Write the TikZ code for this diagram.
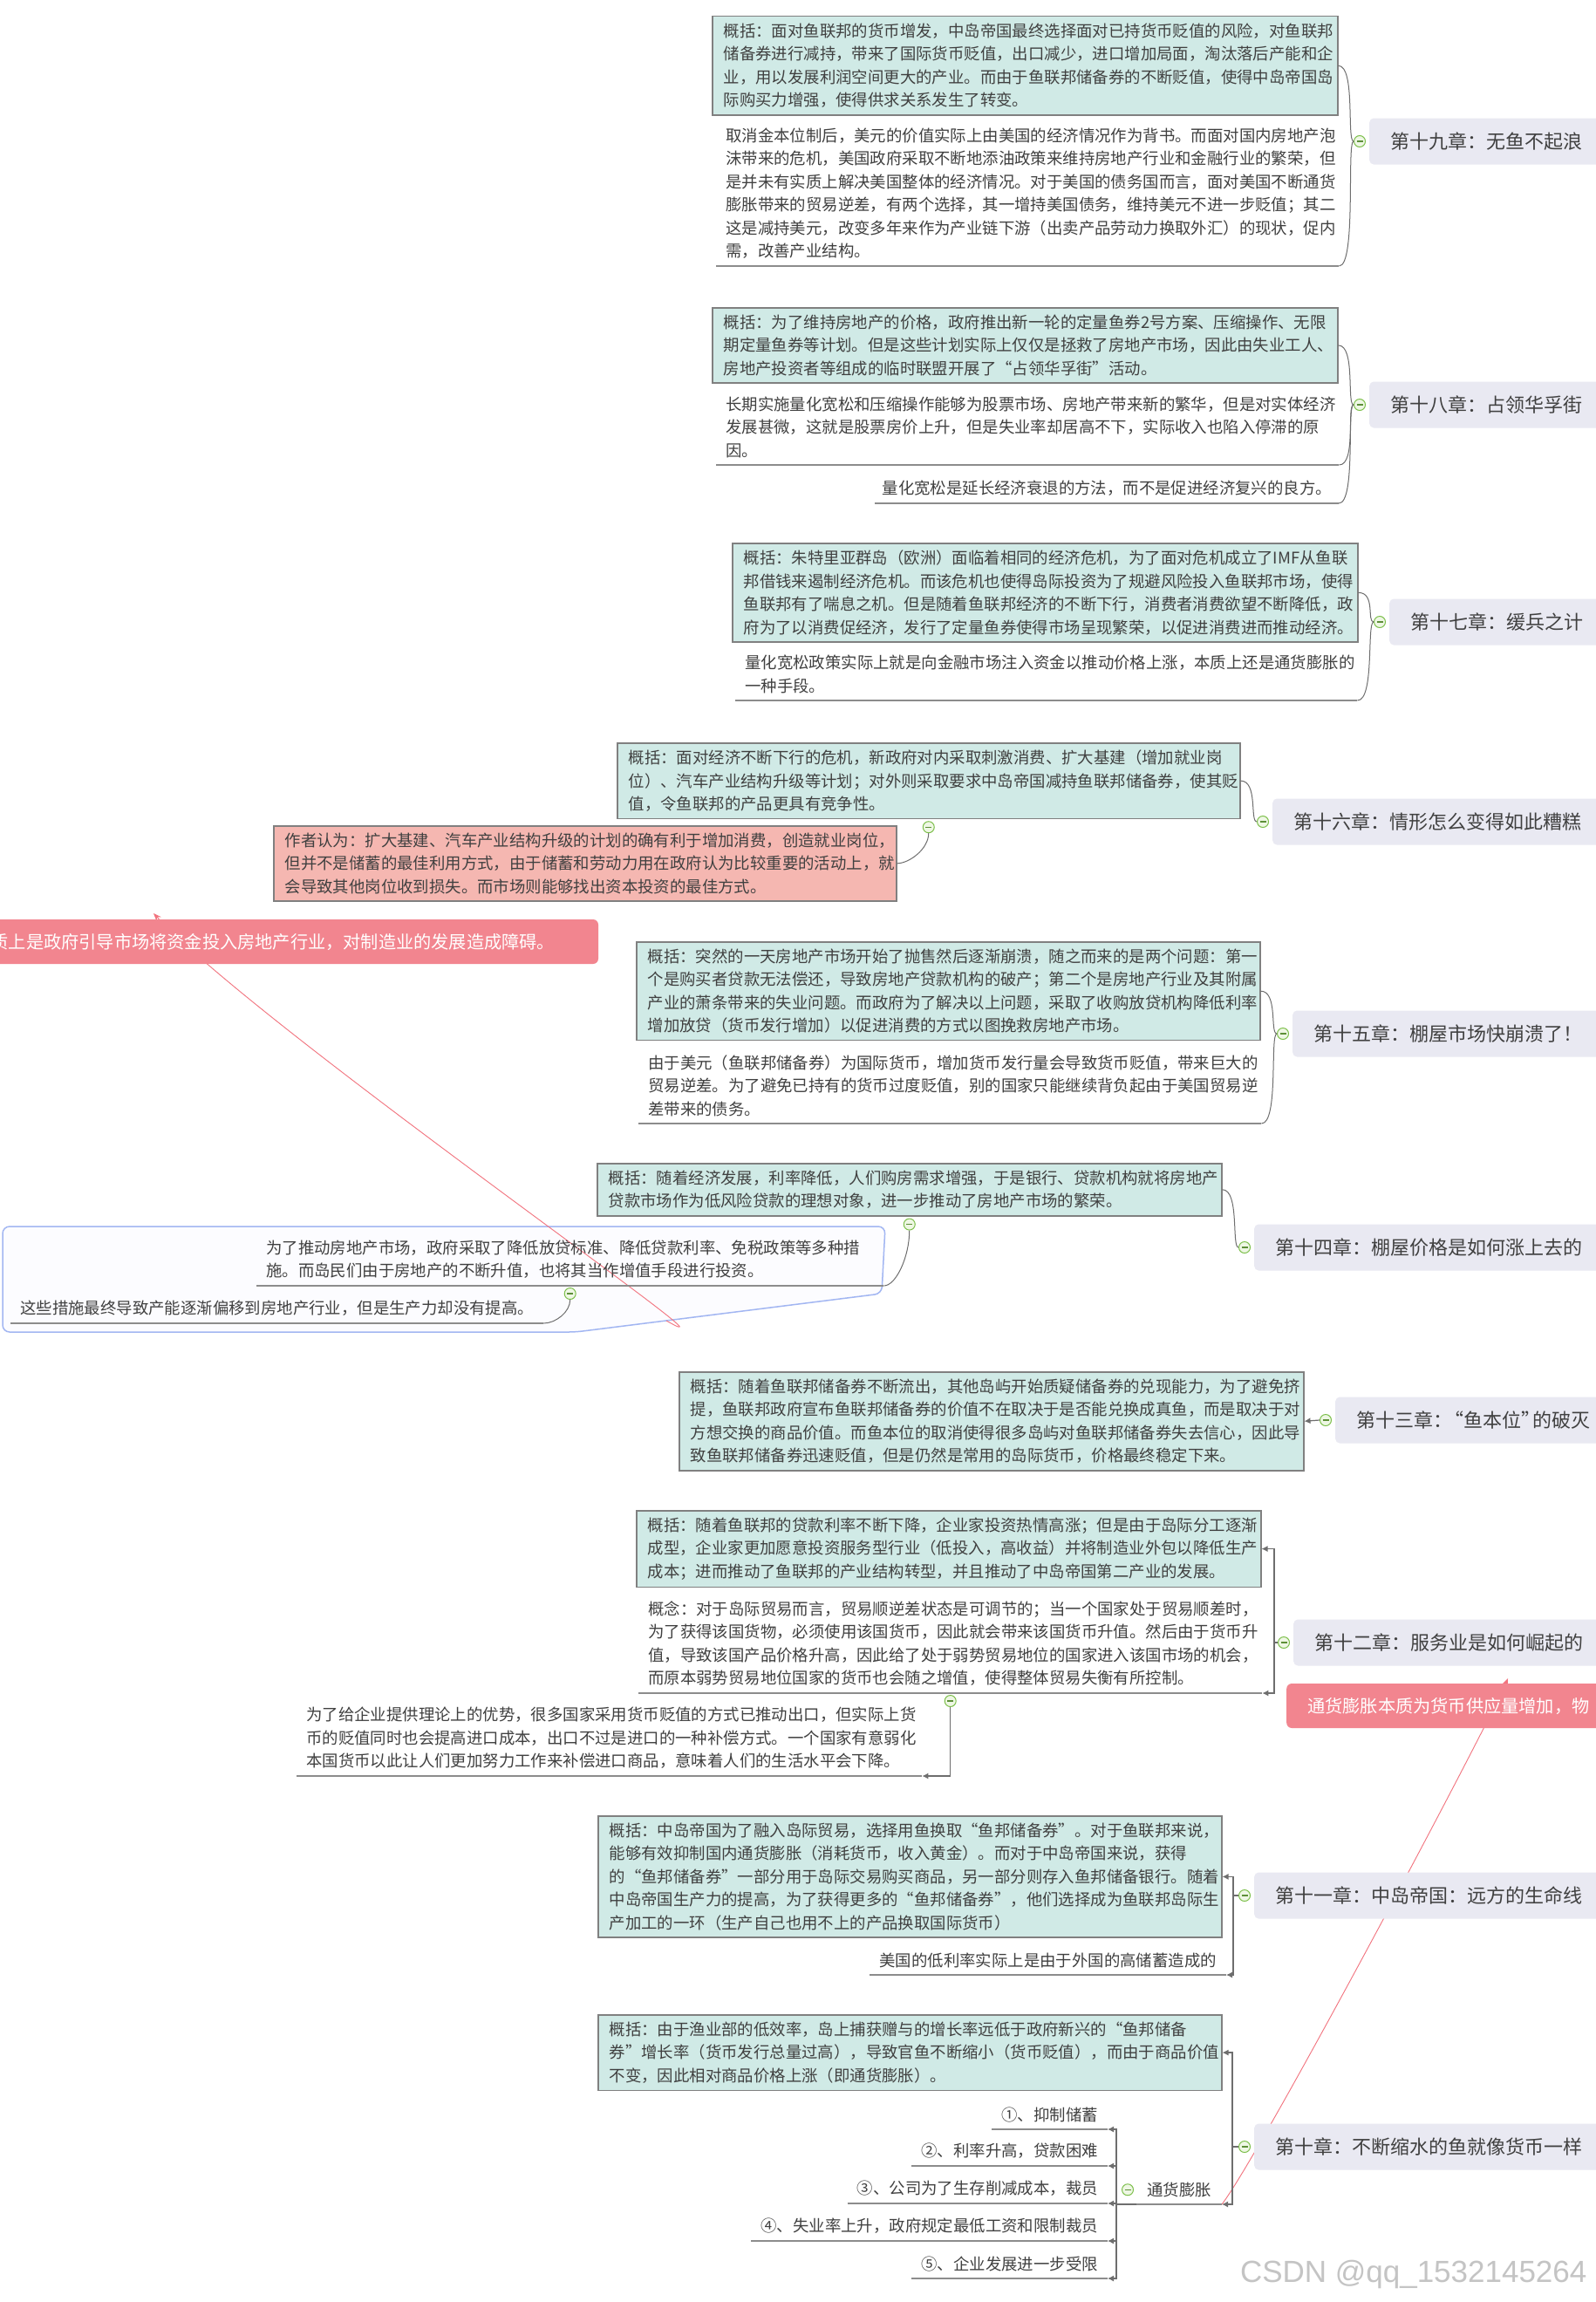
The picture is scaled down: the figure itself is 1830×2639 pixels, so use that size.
\documentclass[tikz,border=0pt]{standalone}
\usepackage{fontspec}
\setmainfont{Noto Sans CJK SC}
\newfontfamily\wmfont{Liberation Sans}
\usetikzlibrary{arrows.meta, positioning}
\definecolor{chapfill}{HTML}{E9E9F2}
\definecolor{sumfill}{HTML}{D0EAE6}
\definecolor{sumline}{HTML}{808080}
\definecolor{authfill}{HTML}{F5B7B1}
\definecolor{banfill}{HTML}{F2858F}
\definecolor{txtgray}{HTML}{404040}
\definecolor{ulgray}{HTML}{8C8C8C}
\definecolor{lnkgray}{HTML}{6E6E6E}
\definecolor{bdfill}{HTML}{FCFCFF}
\definecolor{bdblue}{HTML}{A2B6F2}
\definecolor{relred}{HTML}{F2737E}
\definecolor{foldgreen}{HTML}{7CBF4A}
\definecolor{foldfill}{HTML}{EEF7E4}
\definecolor{wmgray}{HTML}{C4C4C4}
\pgfdeclarelayer{bg}
\pgfdeclarelayer{mid}
\pgfsetlayers{bg,mid,main}

\begin{document}
\begin{tikzpicture}[
  x=1pt, y=-1pt,
  >={Latex[length=7pt, width=7pt]},
  chapter/.style={anchor=west, fill=chapfill, rounded corners=5pt,
    minimum height=53pt, inner xsep=24pt, inner ysep=0pt,
    font=\fontsize{22}{26}\selectfont, text=txtgray},
  summary/.style={anchor=north west, fill=sumfill, draw=sumline, line width=1.5pt,
    inner xsep=13pt, inner ysep=8pt, align=left,
    font=\fontsize{18.4}{26.5}\selectfont, text=txtgray},
  author/.style={summary, fill=authfill},
  note/.style={anchor=south west, inner xsep=11pt, inner ysep=8pt, align=left,
    font=\fontsize{18.4}{26.5}\selectfont, text=txtgray},
  onenote/.style={note, anchor=south east},
  banner/.style={fill=banfill, rounded corners=6pt, minimum height=51pt,
    inner sep=0pt, text=white, font=\fontsize{20.2}{24}\selectfont},
  fold/.style={circle, draw=foldgreen, fill=foldfill, line width=1pt,
    minimum size=13pt, inner sep=0pt,
    path picture={\draw[foldgreen!75!black, line width=1.3pt]
      ([xshift=-3.5pt]path picture bounding box.center) --
      ([xshift=3.5pt]path picture bounding box.center);}},
  link/.style={draw=lnkgray, line width=1pt},
  elbow/.style={draw=lnkgray, line width=1.2pt, ->},
  uline/.style={draw=ulgray, line width=2.2pt},
  rel/.style={draw=relred, line width=0.9pt, -{Stealth[length=9pt, width=7pt]}},
]

% Canvas: 1 unit = 1 px of the 1830 x 2639 reference, y going down
\useasboundingbox (0,0) rectangle (1830,2639);
\begin{pgfonlayer}{bg}
  \fill[white] (0,0) rectangle (1830,2639);
  % boundary round the chapter 14 details
  \draw[bdblue, fill=bdfill, line width=1.5pt, rounded corners=8pt]
    (3,1406) -- (1015,1406) -- (1011,1483) -- (660,1527) -- (3,1527) -- cycle;
\end{pgfonlayer}
\coordinate (bdy) at (764,1514);

% --- Chapter 19 ---
\node[chapter] (c19) at (1570,162) {第十九章：无鱼不起浪};
\node[fold, left=4pt of c19] (f19) {};
\node[summary, text width=691pt] (s19) at (816,18)
  {概括：面对鱼联邦的货币增发，中岛帝国最终选择面对已持货币贬值的风险，对鱼联邦\\
   储备券进行减持，带来了国际货币贬值，出口减少，进口增加局面，淘汰落后产能和企\\
   业，用以发展利润空间更大的产业。而由于鱼联邦储备券的不断贬值，使得中岛帝国岛\\
   际购买力增强，使得供求关系发生了转变。};
\node[note, text width=692pt] (n19) at (821,305)
  {取消金本位制后，美元的价值实际上由美国的经济情况作为背书。而面对国内房地产泡\\
   沫带来的危机，美国政府采取不断地添油政策来维持房地产行业和金融行业的繁荣，但\\
   是并未有实质上解决美国整体的经济情况。对于美国的债务国而言，面对美国不断通货\\
   膨胀带来的贸易逆差，有两个选择，其一增持美国债务，维持美元不进一步贬值；其二\\
   这是减持美元，改变多年来作为产业链下游（出卖产品劳动力换取外汇）的现状，促内\\
   需，改善产业结构。};
\draw[uline] (n19.south west) -- (n19.south east);
\draw[link] (f19.west) .. controls +(-8,0) and +(20,0) .. (s19.east);
\draw[link] (f19.west) .. controls +(-8,0) and +(20,0) .. (n19.south east);

% --- Chapter 18 ---
\node[chapter] (c18) at (1570,464) {第十八章：占领华孚街};
\node[fold, left=4pt of c18] (f18) {};
\node[summary, text width=691pt] (s18) at (816,352)
  {概括：为了维持房地产的价格，政府推出新一轮的定量鱼券2号方案、压缩操作、无限\\
   期定量鱼券等计划。但是这些计划实际上仅仅是拯救了房地产市场，因此由失业工人、\\
   房地产投资者等组成的临时联盟开展了“占领华孚街”活动。};
\node[note, text width=692pt] (n18a) at (821,533)
  {长期实施量化宽松和压缩操作能够为股票市场、房地产带来新的繁华，但是对实体经济\\
   发展甚微，这就是股票房价上升，但是失业率却居高不下，实际收入也陷入停滞的原\\
   因。};
\node[onenote, inner xsep=8pt] (n18b) at (1535,577)
  {量化宽松是延长经济衰退的方法，而不是促进经济复兴的良方。};
\draw[uline] (n18a.south west) -- (n18a.south east);
\draw[uline] (n18b.south west) -- (n18b.south east);
\draw[link] (f18.west) .. controls +(-8,0) and +(20,0) .. (s18.east);
\draw[link] (f18.west) .. controls +(-8,0) and +(20,0) .. (n18a.south east);
\draw[link] (f18.west) .. controls +(-8,0) and +(20,0) .. (n18b.south east);

% --- Chapter 17 ---
\node[chapter] (c17) at (1593,713) {第十七章：缓兵之计};
\node[fold, left=4pt of c17] (f17) {};
\node[summary, text width=691pt] (s17) at (839,622)
  {概括：朱特里亚群岛（欧洲）面临着相同的经济危机，为了面对危机成立了IMF从鱼联\\
   邦借钱来遏制经济危机。而该危机也使得岛际投资为了规避风险投入鱼联邦市场，使得\\
   鱼联邦有了喘息之机。但是随着鱼联邦经济的不断下行，消费者消费欲望不断降低，政\\
   府为了以消费促经济，发行了定量鱼券使得市场呈现繁荣，以促进消费进而推动经济。};
\node[note, text width=691pt] (n17) at (843,803)
  {量化宽松政策实际上就是向金融市场注入资金以推动价格上涨，本质上还是通货膨胀的\\
   一种手段。};
\draw[uline] (n17.south west) -- (n17.south east);
\draw[link] (f17.west) .. controls +(-8,0) and +(20,0) .. (s17.east);
\draw[link] (f17.west) .. controls +(-8,0) and +(20,0) .. (n17.south east);

% --- Chapter 16 ---
\node[chapter] (c16) at (1459,942) {第十六章：情形怎么变得如此糟糕};
\node[fold, left=4pt of c16] (f16) {};
\node[summary, text width=688pt] (s16) at (707,851)
  {概括：面对经济不断下行的危机，新政府对内采取刺激消费、扩大基建（增加就业岗\\
   位）、汽车产业结构升级等计划；对外则采取要求中岛帝国减持鱼联邦储备券，使其贬\\
   值，令鱼联邦的产品更具有竞争性。};
\node[fold, below=2pt of s16] (fs16) {};
\node[author, text width=688pt] (auth16) at (313,946)
  {作者认为：扩大基建、汽车产业结构升级的计划的确有利于增加消费，创造就业岗位，\\
   但并不是储蓄的最佳利用方式，由于储蓄和劳动力用在政府认为比较重要的活动上，就\\
   会导致其他岗位收到损失。而市场则能够找出资本投资的最佳方式。};
\draw[link] (f16.west) .. controls +(-8,0) and +(20,0) .. (s16.east);
\draw[link] (fs16.south) .. controls +(0,18) and +(14,0) .. (auth16.east);

% floating topic on the left
\node[banner, minimum width=746pt] (bnL) at (313,1079.5)
  {质上是政府引导市场将资金投入房地产行业，对制造业的发展造成障碍。};
\coordinate (tipL) at (176,1047);

% --- Chapter 15 ---
\node[chapter] (c15) at (1482,1185) {第十五章：棚屋市场快崩溃了！};
\node[fold, left=4pt of c15] (f15) {};
\node[summary, text width=689pt] (s15) at (729,1079)
  {概括：突然的一天房地产市场开始了抛售然后逐渐崩溃，随之而来的是两个问题：第一\\
   个是购买者贷款无法偿还，导致房地产贷款机构的破产；第二个是房地产行业及其附属\\
   产业的萧条带来的失业问题。而政府为了解决以上问题，采取了收购放贷机构降低利率\\
   增加放贷（货币发行增加）以促进消费的方式以图挽救房地产市场。};
\node[note, text width=692pt] (n15) at (732,1288)
  {由于美元（鱼联邦储备券）为国际货币，增加货币发行量会导致货币贬值，带来巨大的\\
   贸易逆差。为了避免已持有的货币过度贬值，别的国家只能继续背负起由于美国贸易逆\\
   差带来的债务。};
\draw[uline] (n15.south west) -- (n15.south east);
\draw[link] (f15.west) .. controls +(-8,0) and +(20,0) .. (s15.east);
\draw[link] (f15.west) .. controls +(-8,0) and +(20,0) .. (n15.south east);

% --- Chapter 14 ---
\node[chapter] (c14) at (1438,1430) {第十四章：棚屋价格是如何涨上去的};
\node[fold, left=4pt of c14] (f14) {};
\node[summary, text width=690pt] (s14) at (684,1333)
  {概括：随着经济发展，利率降低，人们购房需求增强，于是银行、贷款机构就将房地产\\
   贷款市场作为低风险贷款的理想对象，进一步推动了房地产市场的繁荣。};
\node[fold, below=2pt of s14] (fs14) {};
\node[note, text width=697pt] (n14a) at (294,1474)
  {为了推动房地产市场，政府采取了降低放贷标准、降低贷款利率、免税政策等多种措\\
   施。而岛民们由于房地产的不断升值，也将其当作增值手段进行投资。};
\node[fold, below=2pt of n14a] (fn14) {};
\node[note] (n14b) at (12,1517)
  {这些措施最终导致产能逐渐偏移到房地产行业，但是生产力却没有提高。};
\draw[uline] (n14a.south west) -- (n14a.south east);
\draw[uline] (n14b.south west) -- (n14b.south east);
\draw[link] (f14.west) .. controls +(-8,0) and +(20,0) .. (s14.east);
\draw[link] (fs14.south) .. controls +(0,30) and +(14,0) .. (n14a.south east);
\draw[link] (fn14.south) .. controls +(0,14) and +(14,0) .. (n14b.south east);

% --- Chapter 13 ---
\node[chapter] (c13) at (1531,1628) {第十三章：\kern-.4em“鱼本位”\kern-.4em的破灭};
\node[fold, left=4pt of c13] (f13) {};
\node[summary, text width=690pt] (s13) at (778,1572)
  {概括：随着鱼联邦储备券不断流出，其他岛屿开始质疑储备券的兑现能力，为了避免挤\\
   提，鱼联邦政府宣布鱼联邦储备券的价值不在取决于是否能兑换成真鱼，而是取决于对\\
   方想交换的商品价值。而鱼本位的取消使得很多岛屿对鱼联邦储备券失去信心，因此导\\
   致鱼联邦储备券迅速贬值，但是仍然是常用的岛际货币，价格最终稳定下来。};
\draw[elbow] (f13.west) -- (s13.east);

% --- Chapter 12 ---
\node[chapter] (c12) at (1483,1883) {第十二章：服务业是如何崛起的};
\node[fold, left=4pt of c12] (f12) {};
\node[summary, text width=690pt] (s12) at (729,1731)
  {概括：随着鱼联邦的贷款利率不断下降，企业家投资热情高涨；但是由于岛际分工逐渐\\
   成型，企业家更加愿意投资服务型行业（低投入，高收益）并将制造业外包以降低生产\\
   成本；进而推动了鱼联邦的产业结构转型，并且推动了中岛帝国第二产业的发展。};
\node[note, text width=693pt] (n12a) at (732,1941)
  {概念：对于岛际贸易而言，贸易顺逆差状态是可调节的；当一个国家处于贸易顺差时，\\
   为了获得该国货物，必须使用该国货币，因此就会带来该国货币升值。然后由于货币升\\
   值，导致该国产品价格升高，因此给了处于弱势贸易地位的国家进入该国市场的机会，\\
   而原本弱势贸易地位国家的货币也会随之增值，使得整体贸易失衡有所控制。};
\node[fold, below=2pt of n12a] (fn12) {};
\node[note, text width=695pt] (n12b) at (340,2036)
  {为了给企业提供理论上的优势，很多国家采用货币贬值的方式已推动出口，但实际上货\\
   币的贬值同时也会提高进口成本，出口不过是进口的一种补偿方式。一个国家有意弱化\\
   本国货币以此让人们更加努力工作来补偿进口商品，意味着人们的生活水平会下降。};
\draw[uline] (n12a.south west) -- (n12a.south east);
\draw[uline] (n12b.south west) -- (n12b.south east);
\draw[elbow] (f12.west) -- ++(-4,0) |- (s12.east);
\draw[elbow] (f12.west) -- ++(-4,0) |- (n12a.south east);
\draw[elbow] (fn12.south) |- (n12b.south east);

% floating topic on the right
\node[banner, anchor=west, inner xsep=24pt] (bnR) at (1475,1955.5)
  {通货膨胀本质为货币供应量增加，物};
\coordinate (tipR) at (1729,1924);

% --- Chapter 11 ---
\node[chapter] (c11) at (1438,2173) {第十一章：中岛帝国：远方的生命线};
\node[fold, left=4pt of c11] (f11) {};
\node[summary, text width=689pt] (s11) at (685,2081)
  {概括：中岛帝国为了融入岛际贸易，选择用鱼换取“鱼邦储备券”。对于鱼联邦来说，\\
   能够有效抑制国内通货膨胀（消耗货币，收入黄金）。而对于中岛帝国来说，获得\\
   的“鱼邦储备券”一部分用于岛际交易购买商品，另一部分则存入鱼邦储备银行。随着\\
   中岛帝国生产力的提高，为了获得更多的“鱼邦储备券”，他们选择成为鱼联邦岛际生\\
   产加工的一环（生产自己也用不上的产品换取国际货币）};
\node[onenote] (n11) at (1406,2264)
  {美国的低利率实际上是由于外国的高储蓄造成的};
\draw[uline] (n11.south west) -- (n11.south east);
\draw[elbow] (f11.west) -- ++(-6,0) |- (s11.east);
\draw[elbow] (f11.west) -- ++(-6,0) |- (n11.south east);

% --- Chapter 10 ---
\node[chapter] (c10) at (1438,2461) {第十章：不断缩水的鱼就像货币一样};
\node[fold, left=4pt of c10] (f10) {};
\node[summary, text width=689pt] (s10) at (685,2309)
  {概括：由于渔业部的低效率，岛上捕获赠与的增长率远低于政府新兴的“鱼邦储备\\
   券”增长率（货币发行总量过高），导致官鱼不断缩小（货币贬值），而由于商品价值\\
   不变，因此相对商品价格上涨（即通货膨胀）。};
\node[note, inner xsep=12pt] (infl) at (1303,2527) {通货膨胀};
\node[fold, left=3pt of infl] (finfl) {};
\draw[uline] (infl.south west) -- (infl.south east);
\draw[elbow] (f10.west) -- ++(-7,0) |- (s10.east);
\draw[elbow] (f10.west) -- ++(-7,0) |- (infl.south east);

% inflation effects
\node[onenote] (k1) at (1270,2441) {①、抑制储蓄};
\node[onenote] (k2) at (1270,2483) {②、利率升高，贷款困难};
\node[onenote] (k3) at (1270,2526) {③、公司为了生存削减成本，裁员};
\node[onenote] (k4) at (1270,2569) {④、失业率上升，政府规定最低工资和限制裁员};
\node[onenote] (k5) at (1270,2612) {⑤、企业发展进一步受限};
\foreach \k in {k1,k2,k3,k4,k5} {
  \draw[uline] (\k.south west) -- (\k.south east);
  \draw[elbow] (infl.south west) -- ++(-23,0) |- (\k.south east);
}

% relationship lines, under the topics
\begin{pgfonlayer}{mid}
  \draw[rel] (bdy) .. controls (880,1580) and (300,1180) .. (tipL);
  \draw[rel] (infl.south east) .. controls (1445,2470) and (1700,1990) .. (tipR);
\end{pgfonlayer}

% watermark
\node[font=\wmfont\fontsize{35}{35}\selectfont, text=wmgray, anchor=east]
  (wm) at (1823,2607) {CSDN @qq\_1532145264};

\end{tikzpicture}
\end{document}
